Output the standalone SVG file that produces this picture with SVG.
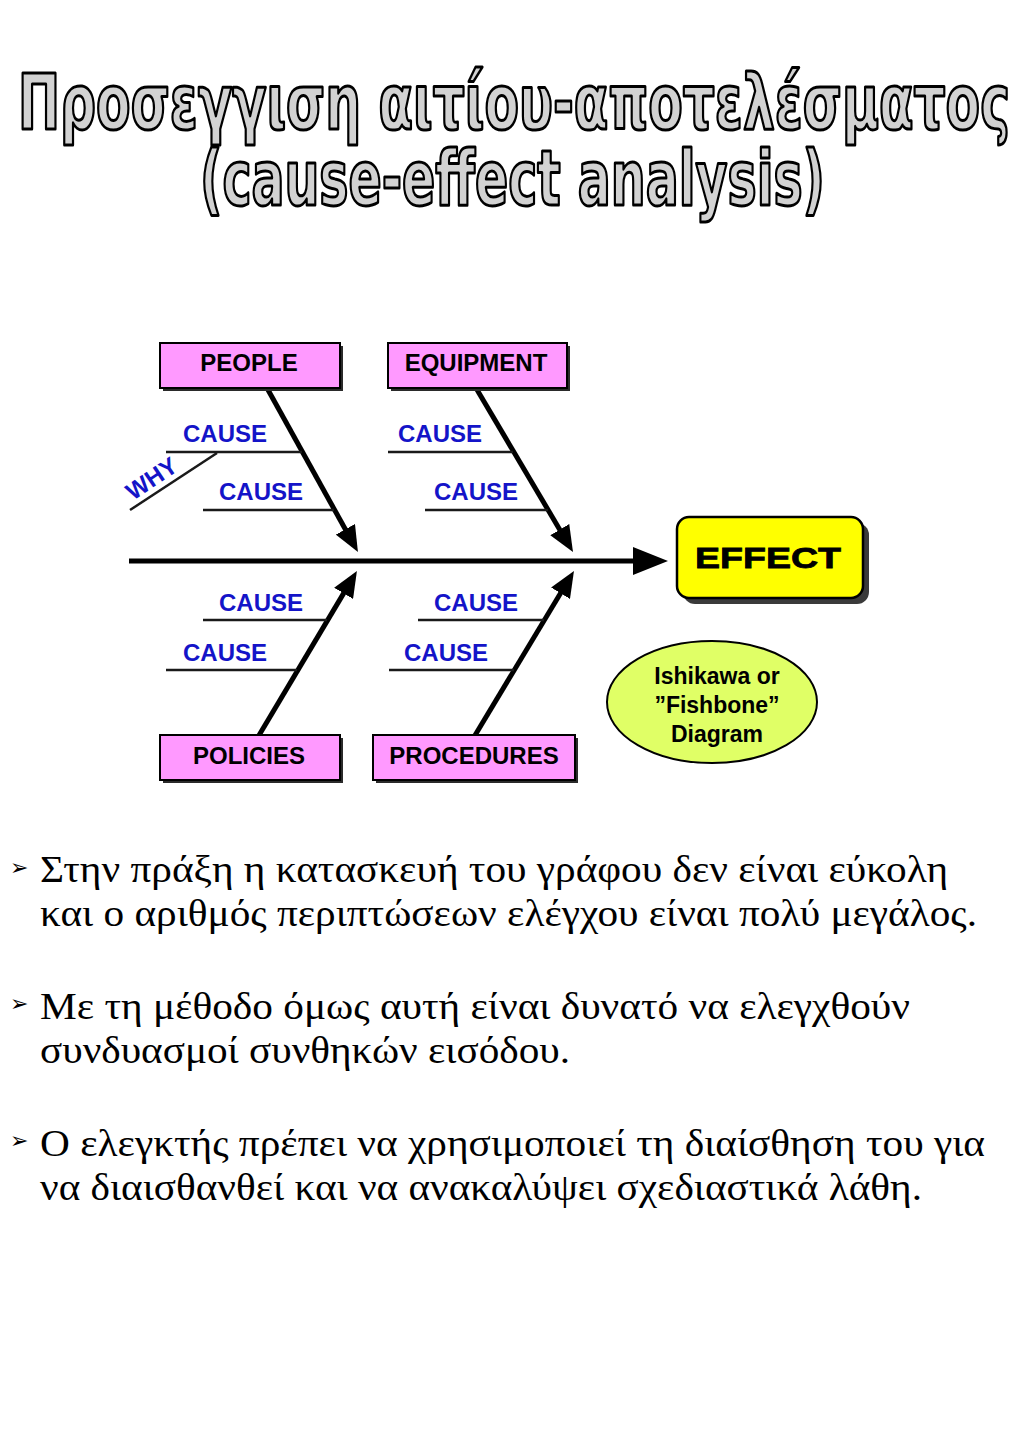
<svg xmlns="http://www.w3.org/2000/svg" width="1024" height="1448" viewBox="0 0 1024 1448">
  <style>
    .title { font-family: "DejaVu Sans Condensed", "DejaVu Sans", sans-serif; font-weight: bold; font-size: 76px; fill: #d2d2d2; stroke: #000; stroke-width: 3px; stroke-linejoin: round; }
    .box { fill: #ff99ff; stroke: #000; stroke-width: 2; }
    .shadow { fill: #2a2a2a; }
    .boxlabel { font-family: "Liberation Sans", Arial, sans-serif; font-weight: bold; font-size: 24px; fill: #000; text-anchor: middle; }
    .cause { font-family: "Liberation Sans", Arial, sans-serif; font-weight: bold; font-size: 24px; fill: #1414c8; }
    .bone { stroke: #000; stroke-width: 5; fill: none; }
    .twig { stroke: #1a1a1a; stroke-width: 2.5; fill: none; }
    .body { font-family: "Liberation Serif", "Times New Roman", serif; font-size: 38px; fill: #000; }
    .bullet { font-family: "DejaVu Sans", sans-serif; font-size: 22px; fill: #000; }
    .oval { font-family: "Liberation Sans", Arial, sans-serif; font-weight: bold; font-size: 23px; fill: #000; text-anchor: middle; }
  </style>
  <defs>
    <marker id="head" viewBox="0 0 26 22" refX="16" refY="11" markerWidth="26" markerHeight="22" markerUnits="userSpaceOnUse" orient="auto">
      <path d="M0,0 L26,11 L0,22 Z" fill="#000"/>
    </marker>
    <marker id="bighead" viewBox="0 0 35 28" refX="12" refY="14" markerWidth="35" markerHeight="28" markerUnits="userSpaceOnUse" orient="auto">
      <path d="M0,0 L35,14 L0,28 Z" fill="#000"/>
    </marker>
  </defs>

  <rect width="1024" height="1448" fill="#fff"/>

  <!-- heading -->
  <g id="heading">
    <text class="title" x="18" y="129" textLength="992" lengthAdjust="spacingAndGlyphs">Προσεγγιση αιτίου-αποτελέσματος</text>
    <text class="title" x="200" y="205" textLength="625" lengthAdjust="spacingAndGlyphs">(cause-effect analysis)</text>
  </g>

  <!-- bones, twigs and spine -->
  <g id="connectors">
    <line class="bone" x1="129" y1="561" x2="645" y2="561" marker-end="url(#bighead)"/>
    <line class="bone" x1="267" y1="388" x2="353.1" y2="543.3" marker-end="url(#head)"/>
    <line class="bone" x1="476" y1="388" x2="567.9" y2="543.4" marker-end="url(#head)"/>
    <line class="bone" x1="258" y1="737" x2="351.8" y2="579.6" marker-end="url(#head)"/>
    <line class="bone" x1="474" y1="737" x2="568.8" y2="579.5" marker-end="url(#head)"/>

    <line class="twig" x1="166" y1="452" x2="302" y2="452"/>
    <line class="twig" x1="203" y1="510" x2="334" y2="510"/>
    <line class="twig" x1="130" y1="510" x2="217" y2="453"/>
    <line class="twig" x1="388" y1="452" x2="513" y2="452"/>
    <line class="twig" x1="425" y1="510" x2="548" y2="510"/>
    <line class="twig" x1="203" y1="620" x2="327" y2="620"/>
    <line class="twig" x1="166" y1="670" x2="297" y2="670"/>
    <line class="twig" x1="418" y1="620" x2="544" y2="620"/>
    <line class="twig" x1="389" y1="670" x2="514" y2="670"/>
  </g>

  <!-- cause labels -->
  <g id="causes">
    <text class="cause" x="183" y="442">CAUSE</text>
    <text class="cause" x="219" y="500">CAUSE</text>
    <text class="cause" x="398" y="442">CAUSE</text>
    <text class="cause" x="434" y="500">CAUSE</text>
    <text class="cause" x="219" y="611">CAUSE</text>
    <text class="cause" x="183" y="661">CAUSE</text>
    <text class="cause" x="434" y="611">CAUSE</text>
    <text class="cause" x="404" y="661">CAUSE</text>
    <text class="cause" x="133" y="501" font-size="16" transform="rotate(-34 133 501)">WHY</text>
  </g>

  <!-- category boxes -->
  <g id="people">
    <rect class="shadow" x="163" y="346" width="180" height="45"/>
    <rect class="box" x="160" y="343" width="180" height="45"/>
    <text class="boxlabel" x="249" y="371">PEOPLE</text>
  </g>
  <g id="equipment">
    <rect class="shadow" x="391" y="346" width="179" height="45"/>
    <rect class="box" x="388" y="343" width="179" height="45"/>
    <text class="boxlabel" x="476" y="371">EQUIPMENT</text>
  </g>
  <g id="policies">
    <rect class="shadow" x="163" y="738" width="180" height="45"/>
    <rect class="box" x="160" y="735" width="180" height="45"/>
    <text class="boxlabel" x="249" y="764">POLICIES</text>
  </g>
  <g id="procedures">
    <rect class="shadow" x="376" y="738" width="202" height="45"/>
    <rect class="box" x="373" y="735" width="202" height="45"/>
    <text class="boxlabel" x="474" y="764">PROCEDURES</text>
  </g>

  <!-- effect -->
  <g id="effect">
    <rect x="683" y="523" width="186" height="81" rx="12" fill="#3a3a3a"/>
    <rect x="677" y="517" width="186" height="81" rx="12" fill="#ffff00" stroke="#000" stroke-width="2.5"/>
    <text x="695" y="568" font-family="Liberation Sans, Arial, sans-serif" font-weight="bold" font-size="30" stroke="#000" stroke-width="0.8" textLength="146" lengthAdjust="spacingAndGlyphs">EFFECT</text>
  </g>

  <!-- caption oval -->
  <g id="fishbone-note">
    <ellipse cx="712" cy="702" rx="105" ry="61" fill="#e0ff66" stroke="#000" stroke-width="2"/>
    <text class="oval" x="717" y="684">Ishikawa or</text>
    <text class="oval" x="717" y="713">”Fishbone”</text>
    <text class="oval" x="717" y="742">Diagram</text>
  </g>

  <!-- bullet text -->
  <g id="notes">
    <text class="bullet" x="10" y="875">➢</text>
    <text class="body" x="40" y="882" textLength="908" lengthAdjust="spacingAndGlyphs">Στην πράξη η κατασκευή του γράφου δεν είναι εύκολη</text>
    <text class="body" x="40" y="926" textLength="937" lengthAdjust="spacingAndGlyphs">και ο αριθμός περιπτώσεων ελέγχου είναι πολύ μεγάλος.</text>

    <text class="bullet" x="10" y="1011">➢</text>
    <text class="body" x="40" y="1019" textLength="870" lengthAdjust="spacingAndGlyphs">Με τη μέθοδο όμως αυτή είναι δυνατό να ελεγχθούν</text>
    <text class="body" x="40" y="1063" textLength="530" lengthAdjust="spacingAndGlyphs">συνδυασμοί συνθηκών εισόδου.</text>

    <text class="bullet" x="10" y="1148">➢</text>
    <text class="body" x="40" y="1156" textLength="945" lengthAdjust="spacingAndGlyphs">Ο ελεγκτής πρέπει να χρησιμοποιεί τη διαίσθηση του για</text>
    <text class="body" x="40" y="1200" textLength="882" lengthAdjust="spacingAndGlyphs">να διαισθανθεί και να ανακαλύψει σχεδιαστικά λάθη.</text>
  </g>
</svg>
